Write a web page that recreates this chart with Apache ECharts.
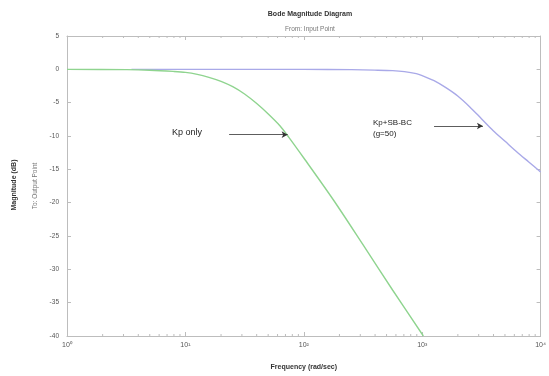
<!DOCTYPE html>
<html><head><meta charset="utf-8">
<script src="https://cdn.jsdelivr.net/npm/echarts@6/dist/echarts.min.js"></script>
<style>html,body{margin:0;padding:0;background:#fff}#c{width:549px;height:376px}</style>
</head><body><div id="c"></div>
<script>
// Data (frequency in rad/sec, magnitude in dB)
const kpFreq = [1, 3.2, 5, 7.9, 10, 12.6, 15.8, 20, 25.1, 31.6, 39.8, 50.1, 63.1, 74.8, 100, 178, 316, 562, 1023];
const kpMag  = [0, -0.05, -0.13, -0.31, -0.45, -0.75, -1.2, -1.8, -2.6, -3.7, -5.1, -6.7, -8.5, -10.2, -13.3, -19.6, -26.3, -33.1, -40];
const sbFreq = [3.5, 10, 100, 251, 398, 562, 708, 891, 1000, 1259, 1585, 1995, 2512, 3162, 3981, 5012, 6310, 7943, 10000];
const sbMag  = [0, 0, 0, -0.05, -0.12, -0.2, -0.35, -0.65, -0.95, -1.7, -2.75, -4.0, -5.6, -7.4, -9.2, -10.8, -12.4, -13.9, -15.4];
const yTicks = [5, 0, -5, -10, -15, -20, -25, -30, -35, -40];
const xTicks = [1, 10, 100, 1000, 10000];
const minorFreq = [2,3,4,5,6,7,8,9,20,30,40,50,60,70,80,90,200,300,400,500,600,700,800,900,2000,3000,4000,5000,6000,7000,8000,9000];
const titleText = 'Bode Magnitude Diagram';
const subTitleText = 'From: Input Point';
const yName1 = 'Magnitude (dB)';
const yName2 = 'To: Output Point';
const xName = 'Frequency (rad/sec)';
const ann1 = 'Kp only';
const ann2 = 'Kp+SB-BC\n(g=50)';
const arrow1 = [[23.4, -9.8], [73, -9.8]];
const arrow2 = [[1259, -8.5], [3258, -8.5]];

const sup = {'0':'⁰','1':'¹','2':'²','3':'³','4':'⁴','5':'⁵','-':'⁻'};
const fmtX = v => { const e = Math.round(Math.log10(v)); return '10' + String(e).split('').map(c=>sup[c]).join(''); };

const axisCol = '#bdbdbd';
const txtCol = '#555';
const baseX = {type:'log', logBase:10, min:1, max:10000,
  axisLine:{onZero:false, lineStyle:{color:axisCol, width:1}},
  axisTick:{inside:true, length:4, lineStyle:{color:axisCol}},
  splitLine:{show:false}};
const baseY = {type:'value', min:-40, max:5, interval:5,
  axisLine:{show:true, onZero:false, lineStyle:{color:axisCol, width:1}},
  axisTick:{show:true, inside:true, length:4, lineStyle:{color:axisCol}},
  splitLine:{show:false}};

const chart = echarts.init(document.getElementById('c'));
chart.setOption({
  animation:false,
  backgroundColor:'#fff',
  title:[
    {text:titleText, left:305, top:6, textAlign:'center', textStyle:{fontSize:7, fontWeight:'bold', color:'#333', fontFamily:'Liberation Sans'}},
    {text:subTitleText, left:305, top:21, textAlign:'center', textStyle:{fontSize:6.5, fontWeight:'normal', color:'#777', fontFamily:'Liberation Sans'}}
  ],
  grid:{left:67, right:6, top:36, bottom:40},
  xAxis:[
    Object.assign({}, baseX, {position:'bottom',
      axisLabel:{formatter:fmtX, color:txtCol, fontSize:7, margin:6, fontFamily:'Liberation Sans'},
      name:xName, nameLocation:'middle', nameGap:28,
      nameTextStyle:{fontSize:7, fontWeight:'bold', color:'#333', fontFamily:'Liberation Sans'}}),
    Object.assign({}, baseX, {position:'top', axisLabel:{show:false}})
  ],
  yAxis:[
    Object.assign({}, baseY, {position:'left',
      axisLabel:{color:txtCol, fontSize:6.5, margin:8, fontFamily:'Liberation Sans', formatter:v=>yTicks.includes(v)?String(v):''},
      name:yName2, nameLocation:'middle', nameGap:22, nameRotate:90,
      nameTextStyle:{fontSize:6.5, color:'#777', fontFamily:'Liberation Sans'}}),
    Object.assign({}, baseY, {position:'right', axisLabel:{show:false}})
  ],
  graphic:[
    {type:'text', x:14, y:185, rotation:Math.PI/2, style:{text:yName1, fill:'#333', font:'bold 7px Liberation Sans', textAlign:'center', textVerticalAlign:'middle'}},
    {type:'text', x:172, y:133, style:{text:ann1, fill:'#222', font:'9px Liberation Sans', textVerticalAlign:'middle'}},
    {type:'text', x:373, y:128, style:{text:ann2, fill:'#222', font:'8px Liberation Sans', textVerticalAlign:'middle', lineHeight:11}}
  ],
  series:[
    {type:'line', name:'Kp', xAxisIndex:0, yAxisIndex:0, data:kpFreq.map((f,i)=>[f,kpMag[i]]),
      showSymbol:false, smooth:0.3, lineStyle:{color:'#8fd48f', width:1.4}, z:3,
      markLine:{silent:true, symbol:['none','arrow'], symbolSize:[5,6], label:{show:false},
        lineStyle:{color:'#333', width:0.8, type:'solid'},
        data:[[{coord:arrow1[0]},{coord:arrow1[1]}],[{coord:arrow2[0]},{coord:arrow2[1]}]]}},
    {type:'line', name:'SB', xAxisIndex:0, yAxisIndex:0, data:sbFreq.map((f,i)=>[f,sbMag[i]]),
      showSymbol:false, smooth:0.3, lineStyle:{color:'#a9a9e8', width:1.4}, z:2},
    {type:'custom', xAxisIndex:0, yAxisIndex:0, data:minorFreq.map(f=>[f]), silent:true, z:5,
      renderItem:(params, api)=>{
        const pb = api.coord([api.value(0), -40]);
        const pt = api.coord([api.value(0), 5]);
        const st = {stroke:axisCol, lineWidth:1};
        return {type:'group', children:[
          {type:'line', shape:{x1:pb[0], y1:pb[1], x2:pb[0], y2:pb[1]-2}, style:st},
          {type:'line', shape:{x1:pt[0], y1:pt[1], x2:pt[0], y2:pt[1]+2}, style:st}
        ]};
      }}
  ]
});
</script></body></html>
